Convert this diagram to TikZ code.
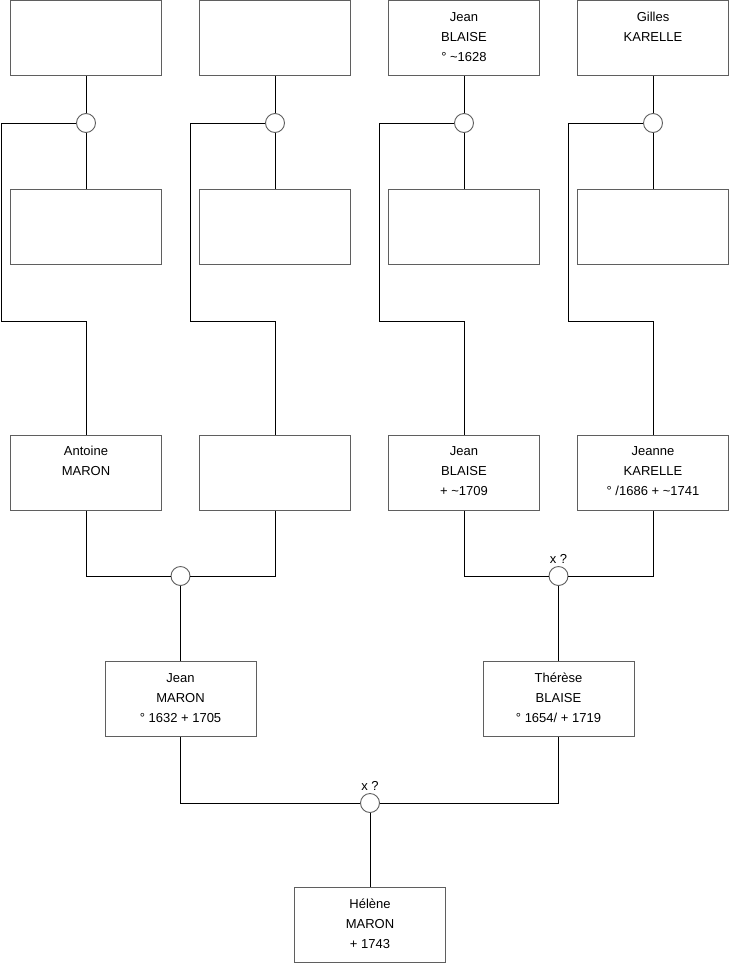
\documentclass[tikz,border=0pt]{standalone}
\usepackage{fontspec}
\setmainfont{Liberation Sans}
\usepackage{xcolor}
\usepackage{tikz}
\usetikzlibrary{positioning}
\definecolor{boxgray}{RGB}{95,95,95}
\newcommand{\pers}[1]{\parbox[c][75pt][t]{151pt}{\centering\rule{0pt}{20.5pt}#1}}

\begin{document}
\begin{tikzpicture}[
    x=1pt, y=-1pt,
    font=\fontsize{13}{20}\selectfont,
    box/.style={draw=boxgray, line width=1pt, inner sep=0pt, minimum width=151pt, minimum height=75pt},
    union/.style={circle, draw=boxgray, fill=white, line width=0.9pt, inner sep=0pt, minimum size=19pt},
    lbl/.style={inner sep=0pt},
    link/.style={line width=0.9pt}
]
\useasboundingbox (0,0) rectangle (740,975);

\node[box] (t1) at (86,38) {};
\node[box] (t2) at (275,38) {};
\node[box] (t3) at (464,38) {\pers{Jean\\BLAISE\\° \textasciitilde1628}};
\node[box] (t4) at (653,38) {\pers{Gilles\\KARELLE}};

\node[union] (c1) at (86,123) {};
\node[union] (c2) at (275,123) {};
\node[union] (c3) at (464,123) {};
\node[union] (c4) at (653,123) {};

\node[box] (m1) at (86,227) {};
\node[box] (m2) at (275,227) {};
\node[box] (m3) at (464,227) {};
\node[box] (m4) at (653,227) {};

\coordinate (j1) at (1,321);
\coordinate (j2) at (190,321);
\coordinate (j3) at (379,321);
\coordinate (j4) at (568,321);

\node[box] (a1) at (86,472.5) {\pers{Antoine\\MARON}};
\node[box] (a2) at (275,472.5) {};
\node[box] (a3) at (464,472.5) {\pers{Jean\\BLAISE\\+ \textasciitilde1709}};
\node[box] (a4) at (653,472.5) {\pers{Jeanne\\KARELLE\\° /1686 + \textasciitilde1741}};

\node[union] (u1) at (180.5,576) {};
\node[union] (u2) at (558.5,576) {};
\node[lbl, above=2pt of u2] (x2) {x ?};

\node[box] (p1) at (180.5,699) {\pers{Jean\\MARON\\° 1632 + 1705}};
\node[box] (p2) at (558.5,699) {\pers{Thérèse\\BLAISE\\° 1654/ + 1719}};

\node[union] (u3) at (370,803) {};
\node[lbl, above=2pt of u3] (x3) {x ?};

\node[box] (h) at (370,925) {\pers{Hélène\\MARON\\+ 1743}};

\draw[link] (t1) -- (c1);
\draw[link] (t2) -- (c2);
\draw[link] (t3) -- (c3);
\draw[link] (t4) -- (c4);
\draw[link] (c1) -- (m1);
\draw[link] (c2) -- (m2);
\draw[link] (c3) -- (m3);
\draw[link] (c4) -- (m4);
\draw[link] (c1.west) -| (j1) -| (a1.north);
\draw[link] (c2.west) -| (j2) -| (a2.north);
\draw[link] (c3.west) -| (j3) -| (a3.north);
\draw[link] (c4.west) -| (j4) -| (a4.north);

\draw[link] (a1.south) |- (u1.west);
\draw[link] (u1.east) -| (a2.south);
\draw[link] (a3.south) |- (u2.west);
\draw[link] (u2.east) -| (a4.south);
\draw[link] (u1) -- (p1);
\draw[link] (u2) -- (p2);

\draw[link] (p1.south) |- (u3.west);
\draw[link] (u3.east) -| (p2.south);
\draw[link] (u3) -- (h);
\end{tikzpicture}
\end{document}
